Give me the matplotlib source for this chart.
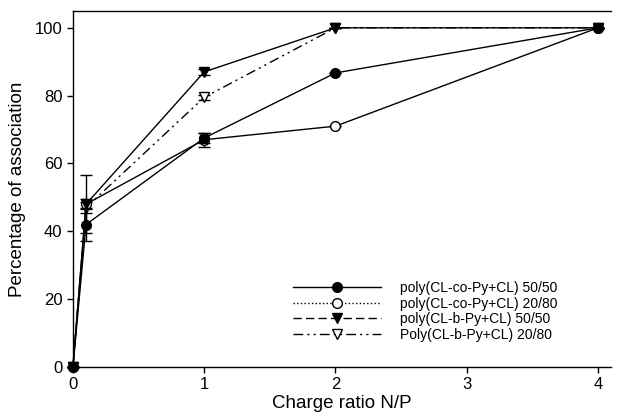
import matplotlib
matplotlib.use("Agg")
import matplotlib.pyplot as plt
from matplotlib.lines import Line2D

plt.rcParams['font.family'] = ['Liberation Sans', 'DejaVu Sans']

x = [0, 0.1, 1, 2, 4]
co_50_50 = [0, 42, 67.5, 86.7, 100]
co_50_50_err = [0, 5, 1.5, 0, 0]
co_20_80 = [0, 48, 67, 71, 100]
co_20_80_err = [0, 8.5, 2, 0, 0]
b_50_50 = [0, 48, 87, 100, 100]
b_50_50_err = [0, 1.5, 0.8, 0, 0]
b_20_80 = [0, 47, 79.5, 100, 100]
b_20_80_err = [0, 1.5, 0.8, 0, 0]

labels = ["poly(CL-co-Py+CL) 50/50", "poly(CL-co-Py+CL) 20/80",
          "poly(CL-b-Py+CL) 50/50", "Poly(CL-b-Py+CL) 20/80"]

fig = plt.figure(figsize=(6.18, 4.17), dpi=100)
ax = fig.add_axes([0.118, 0.12, 0.871, 0.854])

kw = dict(color='black', lw=1.0, capsize=4, elinewidth=1.0, capthick=1.0, ms=7, clip_on=False)
ax.errorbar(x, b_20_80, yerr=b_20_80_err, fmt='v', mfc='white', zorder=2, **kw)
ax.plot(x, b_20_80, color='black', lw=1.0, dashes=[7, 3, 1.5, 3, 1.5, 3], zorder=2)
ax.errorbar(x, co_20_80, yerr=co_20_80_err, fmt='-o', mfc='white', zorder=3, **kw)
ax.errorbar(x, b_50_50, yerr=b_50_50_err, fmt='-v', mfc='black', zorder=4, **kw)
ax.errorbar(x, co_50_50, yerr=co_50_50_err, fmt='-o', mfc='black', zorder=5, **kw)

handles = [
    Line2D([], [], color='black', lw=1.0, ls='-', marker='o', mfc='black', ms=7),
    Line2D([], [], color='black', lw=1.0, ls=':', marker='o', mfc='white', ms=7),
    Line2D([], [], color='black', lw=1.0, ls=(0, (6, 3)), marker='v', mfc='black', ms=7),
    Line2D([], [], color='black', lw=1.0, ls=(0, (7, 3, 1.5, 3, 1.5, 3)), marker='v', mfc='white', ms=7),
]
ax.legend(handles, labels, loc='lower right', bbox_to_anchor=(0.924, 0.035), frameon=False,
          fontsize=10, handlelength=6.3, handletextpad=1.4, labelspacing=0.12)

ax.set_xlim(0, 4.1)
ax.set_ylim(0, 105)
ax.set_xticks([0, 1, 2, 3, 4])
ax.set_yticks([0, 20, 40, 60, 80, 100])
ax.spines['right'].set_visible(False)
for s in ['left', 'bottom', 'top']:
    ax.spines[s].set_linewidth(1.0)
ax.tick_params(direction='out', length=4, width=1, labelsize=12)
ax.set_xlabel("Charge ratio N/P", fontsize=13.5, labelpad=2)
ax.set_ylabel("Percentage of association", fontsize=13.5, labelpad=6)

fig.savefig("out.png", dpi=100)
